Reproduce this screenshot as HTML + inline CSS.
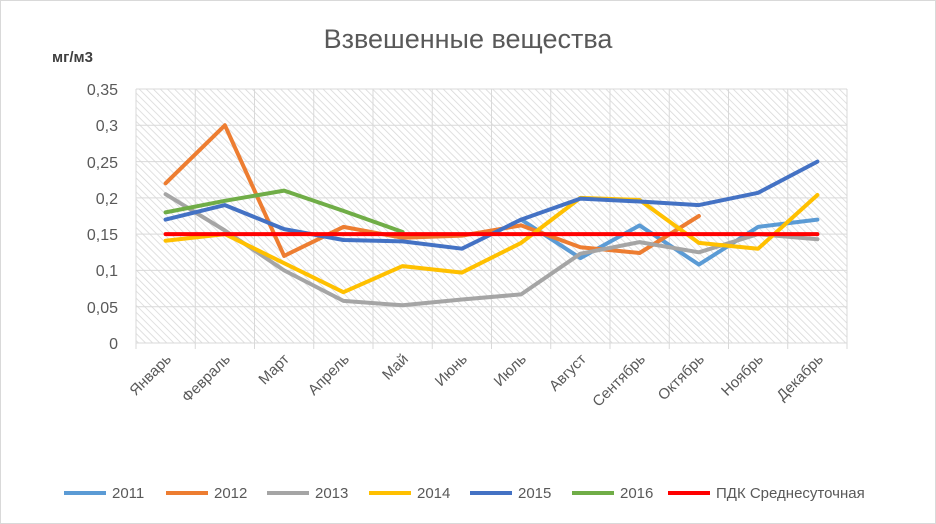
<!DOCTYPE html>
<html><head><meta charset="utf-8"><style>
body{margin:0;background:#fff;}
svg{display:block;font-family:"Liberation Sans","DejaVu Sans",sans-serif;}
</style></head><body>
<svg width="936" height="524" viewBox="0 0 936 524" xmlns="http://www.w3.org/2000/svg">
<defs>
<pattern id="h" width="5" height="5" patternUnits="userSpaceOnUse" patternTransform="rotate(-45)">
<rect width="5" height="5" fill="#fff"/><line x1="0" y1="0" x2="0" y2="5" stroke="#d9d9d9" stroke-width="1.6"/>
</pattern>
</defs>
<rect x="0.5" y="0.5" width="935" height="523" fill="#fff" stroke="#d9d9d9"/>
<text x="468" y="48" text-anchor="middle" font-size="27" fill="#595959">Взвешенные вещества</text>
<text x="52" y="62" font-size="15" font-weight="bold" fill="#404040">мг/м3</text>
<rect x="136" y="89" width="711" height="254" fill="url(#h)"/>
<g stroke="#d9d9d9" stroke-width="1">
<line x1="136" y1="89" x2="847" y2="89"/><line x1="136" y1="125.3" x2="847" y2="125.3"/>
<line x1="136" y1="161.6" x2="847" y2="161.6"/><line x1="136" y1="197.9" x2="847" y2="197.9"/>
<line x1="136" y1="234.1" x2="847" y2="234.1"/><line x1="136" y1="270.4" x2="847" y2="270.4"/>
<line x1="136" y1="306.7" x2="847" y2="306.7"/><line x1="136" y1="343" x2="847" y2="343"/>
<line x1="136" y1="89" x2="136" y2="349"/><line x1="195.25" y1="89" x2="195.25" y2="349"/>
<line x1="254.5" y1="89" x2="254.5" y2="349"/><line x1="313.75" y1="89" x2="313.75" y2="349"/>
<line x1="373" y1="89" x2="373" y2="349"/><line x1="432.25" y1="89" x2="432.25" y2="349"/>
<line x1="491.5" y1="89" x2="491.5" y2="349"/><line x1="550.75" y1="89" x2="550.75" y2="349"/>
<line x1="610" y1="89" x2="610" y2="349"/><line x1="669.25" y1="89" x2="669.25" y2="349"/>
<line x1="728.5" y1="89" x2="728.5" y2="349"/><line x1="787.75" y1="89" x2="787.75" y2="349"/>
<line x1="847" y1="89" x2="847" y2="349"/>
</g>
<g font-size="16" fill="#595959" text-anchor="end">
<text x="118" y="95">0,35</text><text x="118" y="131">0,3</text><text x="118" y="168">0,25</text>
<text x="118" y="204">0,2</text><text x="118" y="240">0,15</text><text x="118" y="276">0,1</text>
<text x="118" y="313">0,05</text><text x="118" y="349">0</text>
</g>
<g font-size="15" fill="#595959" text-anchor="end">
<text transform="translate(172,360) rotate(-45)">Январь</text>
<text transform="translate(231,360) rotate(-45)">Февраль</text>
<text transform="translate(290,360) rotate(-45)">Март</text>
<text transform="translate(350,360) rotate(-45)">Апрель</text>
<text transform="translate(409,360) rotate(-45)">Май</text>
<text transform="translate(468,360) rotate(-45)">Июнь</text>
<text transform="translate(527,360) rotate(-45)">Июль</text>
<text transform="translate(587,360) rotate(-45)">Август</text>
<text transform="translate(646,360) rotate(-45)">Сентябрь</text>
<text transform="translate(705,360) rotate(-45)">Октябрь</text>
<text transform="translate(764,360) rotate(-45)">Ноябрь</text>
<text transform="translate(824,360) rotate(-45)">Декабрь</text>
</g>
<g fill="none" stroke-width="4" stroke-linejoin="round" stroke-linecap="round">
<polyline stroke="#5B9BD5" points="521.1,219.6 580.4,258.1 639.6,225.4 698.9,264.6 758.1,226.9 817.4,219.6"/>
<polyline stroke="#ED7D31" points="165.6,183.3 224.9,125.3 284.1,255.9 343.4,226.9 402.6,237.8 461.9,235.6 521.1,225.4 580.4,247.2 639.6,253.0 698.9,216.0"/>
<polyline stroke="#A5A5A5" points="165.6,194.2 224.9,230.5 284.1,270.4 343.4,300.9 402.6,305.3 461.9,299.5 521.1,294.4 580.4,253.7 639.6,242.1 698.9,252.3 758.1,234.1 817.4,239.2"/>
<polyline stroke="#FFC000" points="165.6,240.7 224.9,234.1 284.1,263.2 343.4,292.2 402.6,266.1 461.9,272.6 521.1,242.9 580.4,197.9 639.6,200.0 698.9,242.9 758.1,248.7 817.4,195.0"/>
<polyline stroke="#4472C4" points="165.6,219.6 224.9,205.1 284.1,229.1 343.4,240.0 402.6,241.4 461.9,248.7 521.1,219.6 580.4,198.6 639.6,201.5 698.9,205.1 758.1,192.8 817.4,161.6"/>
<polyline stroke="#70AD47" points="165.6,212.4 224.9,200.8 284.1,190.6 343.4,210.9 402.6,232.0"/>
<line x1="165.6" y1="234.1" x2="817.4" y2="234.1" stroke="#FF0000"/>
</g>
<g font-size="15" fill="#595959">
<line x1="64" y1="493" x2="106" y2="493" stroke="#5B9BD5" stroke-width="4"/><text x="112" y="498">2011</text>
<line x1="166" y1="493" x2="208" y2="493" stroke="#ED7D31" stroke-width="4"/><text x="214" y="498">2012</text>
<line x1="267" y1="493" x2="309" y2="493" stroke="#A5A5A5" stroke-width="4"/><text x="315" y="498">2013</text>
<line x1="369" y1="493" x2="411" y2="493" stroke="#FFC000" stroke-width="4"/><text x="417" y="498">2014</text>
<line x1="470" y1="493" x2="512" y2="493" stroke="#4472C4" stroke-width="4"/><text x="518" y="498">2015</text>
<line x1="572" y1="493" x2="614" y2="493" stroke="#70AD47" stroke-width="4"/><text x="620" y="498">2016</text>
<line x1="668" y1="493" x2="710" y2="493" stroke="#FF0000" stroke-width="4"/><text x="716" y="498">ПДК Среднесуточная</text>
</g>
</svg>
</body></html>
